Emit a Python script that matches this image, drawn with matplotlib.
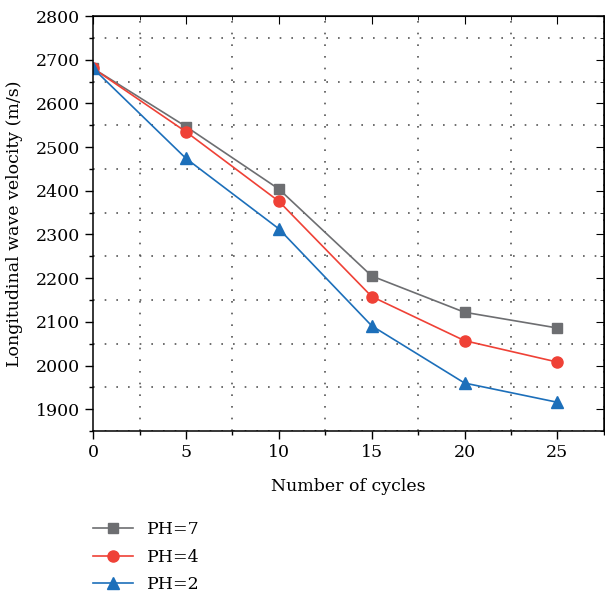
import numpy as np
import matplotlib.pyplot as plt
from matplotlib.ticker import MultipleLocator

plt.rcParams['font.family'] = ['DejaVu Serif']

cycles = [0, 5, 10, 15, 20, 25]
ph7 = [2680, 2547, 2404, 2205, 2122, 2086]
ph4 = [2680, 2535, 2376, 2158, 2057, 2008]
ph2 = [2680, 2474, 2313, 2091, 1960, 1916]

fig = plt.figure(figsize=(6.05, 5.93), dpi=100)
ax = fig.add_axes([0.154, 0.273, 0.844, 0.700])

ax.plot(cycles, ph7, color='#6d6e71', marker='s', ms=7, lw=1.2, label='PH=7')
ax.plot(cycles, ph4, color='#ef4136', marker='o', ms=8, lw=1.2, label='PH=4')
ax.plot(cycles, ph2, color='#1c6fba', marker='^', ms=8, lw=1.2, label='PH=2')

ax.set_xlim(0, 27.5)
ax.set_ylim(1850, 2800)
ax.xaxis.set_major_locator(MultipleLocator(5))
ax.xaxis.set_minor_locator(MultipleLocator(2.5))
ax.yaxis.set_major_locator(MultipleLocator(100))
ax.yaxis.set_minor_locator(MultipleLocator(50))
ax.grid(which='minor', color='#555555', ls=(0, (1, 6)), lw=1.2)

ax.tick_params(which='both', direction='out', labelsize=12.5, width=1)
ax.tick_params(which='major', length=6)
ax.tick_params(which='minor', length=3)
for sp in ax.spines.values():
    sp.set_linewidth(1.1)

# mirrored inward ticks on top and right
sec_x = ax.secondary_xaxis('top')
sec_x.xaxis.set_major_locator(MultipleLocator(5))
sec_x.xaxis.set_minor_locator(MultipleLocator(2.5))
sec_x.tick_params(which='both', direction='in', labeltop=False)
sec_x.tick_params(which='major', length=6)
sec_x.tick_params(which='minor', length=3)
sec_y = ax.secondary_yaxis('right')
sec_y.yaxis.set_major_locator(MultipleLocator(100))
sec_y.yaxis.set_minor_locator(MultipleLocator(50))
sec_y.tick_params(which='both', direction='in', labelright=False)
sec_y.tick_params(which='major', length=6)
sec_y.tick_params(which='minor', length=3)

ax.set_xlabel('Number of cycles', fontsize=12.5, labelpad=12)
ax.set_ylabel('Longitudinal wave velocity (m/s)', fontsize=12.5, labelpad=9)

ax.legend(loc='upper left', bbox_to_anchor=(-0.03, -0.18), frameon=False,
          fontsize=12.5, handlelength=2.3, labelspacing=0.6)

fig.savefig('out.png', dpi=100)
